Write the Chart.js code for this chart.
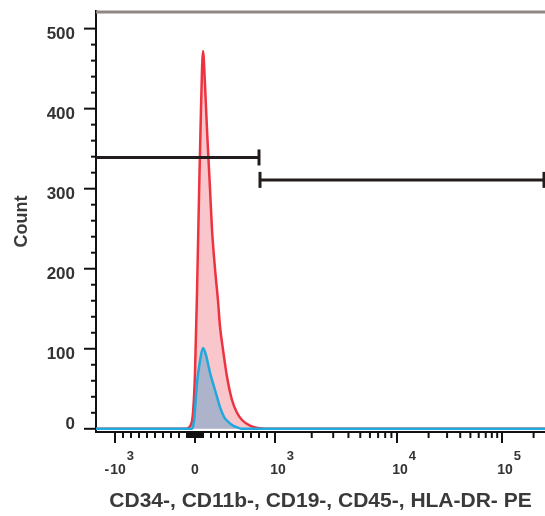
<!DOCTYPE html>
<html lang="en">
<head>
    <meta charset="UTF-8">
    <title>Count histogram</title>
    <script src="https://cdn.jsdelivr.net/npm/chart.js"></script>
    <style>
        body { margin: 0; background: white; }
        canvas { display: block; }
    </style>
</head>
<body>
    <canvas id="histChart" width="545" height="516"></canvas>
    <script>
        // histogram values, x in display channels (0 = left edge of plot)
        const redChannels = [0, 90, 94, 97, 99, 101, 103, 105, 107, 109, 111, 114, 116, 119, 122, 124, 127, 131, 136, 141, 146, 154, 162, 169, 449];
        const redCounts   = [0, 0, 3, 20, 70, 170, 290, 400, 472, 430, 374, 300, 249, 200, 160, 128, 99, 65, 36, 20, 11, 4, 1, 0, 0];
        const blueChannels = [0, 96, 98, 101, 104, 107, 110, 114, 117, 121, 124, 128, 132, 137, 141, 146, 449];
        const blueCounts   = [0, 0, 10, 57, 85, 101, 92, 70, 57, 40, 27, 15, 9, 4, 2, 0, 0];

        // gates: [start channel, end channel, count level]
        const gateLeft = [0, 163, 339];
        const gateRight = [164, 448, 311];

        const xMajorValues = [-1000, 0, 1000, 10000, 100000];
        const xMajorBase = ['-10', '0', '10', '10', '10'];
        const xMajorExp = ['3', '', '3', '4', '5'];
        const yMajor = [0, 100, 200, 300, 400, 500];

        const xTitle = 'CD34-, CD11b-, CD19-, CD45-, HLA-DR- PE';
        const yTitle = 'Count';

        // biexponential-like display transform (value -> channel)
        function toChannel(v) {
            if (v <= 1000) return 99 + v * 0.08;
            if (v <= 10000) return 179 + 122 * Math.log10(v / 1000);
            return 301 + 105 * Math.log10(v / 10000);
        }

        const xMinor = [];
        for (let v = -900; v <= 900; v += 100) if (v !== 0) xMinor.push(v);
        for (let v = -90; v <= 90; v += 10) if (v !== 0) xMinor.push(v);
        for (let k = 2; k <= 9; k++) { xMinor.push(k * 1000); xMinor.push(k * 10000); }
        xMinor.push(200000);

        const toPoints = (xs, ys) => xs.map((x, i) => ({ x: x, y: ys[i] }));

        const FONT = "'Liberation Sans', Arial, sans-serif";

        const decor = {
            id: 'decor',
            afterDatasetsDraw(chart) {
                const { ctx, chartArea } = chart;
                const xs = chart.scales.x, ys = chart.scales.y;
                ctx.save();
                // top frame line
                ctx.strokeStyle = '#8e8785';
                ctx.lineWidth = 3;
                ctx.beginPath();
                ctx.moveTo(chartArea.left, chartArea.top + 1);
                ctx.lineTo(chartArea.right, chartArea.top + 1);
                ctx.stroke();

                // gates
                ctx.strokeStyle = '#231c1c';
                ctx.lineWidth = 3;
                [gateLeft, gateRight].forEach((g, gi) => {
                    const x0 = xs.getPixelForValue(g[0]);
                    const x1 = xs.getPixelForValue(g[1]);
                    const y = ys.getPixelForValue(g[2]);
                    ctx.beginPath();
                    ctx.moveTo(x0, y);
                    ctx.lineTo(x1, y);
                    ctx.stroke();
                    const caps = gi === 0 ? [x1] : [x0, x1];
                    caps.forEach(cx => {
                        ctx.beginPath();
                        ctx.moveTo(cx, y - 8);
                        ctx.lineTo(cx, y + 8);
                        ctx.stroke();
                    });
                });

                // x tick marks
                const bottom = chartArea.bottom;
                ctx.strokeStyle = '#111';
                ctx.lineWidth = 2;
                xMinor.forEach(v => {
                    const px = xs.getPixelForValue(toChannel(v));
                    if (px > chartArea.right) return;
                    ctx.beginPath();
                    ctx.moveTo(px, bottom);
                    ctx.lineTo(px, bottom + 6);
                    ctx.stroke();
                });
                xMajorValues.forEach(v => {
                    const px = xs.getPixelForValue(toChannel(v));
                    ctx.beginPath();
                    ctx.moveTo(px, bottom);
                    ctx.lineTo(px, bottom + 11);
                    ctx.stroke();
                });

                // y tick marks and labels
                const left = chartArea.left;
                ctx.fillStyle = '#333';
                ctx.textBaseline = 'middle';
                ctx.textAlign = 'right';
                ctx.font = 'bold 17px ' + FONT;
                for (let v = 0; v <= 500; v += 20) {
                    const py = ys.getPixelForValue(v);
                    const major = yMajor.includes(v);
                    ctx.beginPath();
                    ctx.moveTo(left, py);
                    ctx.lineTo(left - (major ? 12 : 5), py);
                    ctx.stroke();
                    if (major) {
                        const ly = Math.min(py + 6, bottom - 8);
                        ctx.fillText(String(v), left - 21, ly);
                    }
                }

                // x tick labels with exponents
                ctx.fillStyle = '#333';
                xMajorValues.forEach((v, i) => {
                    const px = xs.getPixelForValue(toChannel(v));
                    ctx.font = 'bold 14px ' + FONT;
                    if (!xMajorExp[i]) {
                        ctx.textAlign = 'center';
                        ctx.fillText(xMajorBase[i], px, 470);
                        return;
                    }
                    ctx.textAlign = 'left';
                    const digits = xMajorBase[i].replace('-', '');
                    const w = ctx.measureText(digits).width;
                    const start = px + 3 - w / 2;
                    ctx.fillText(digits, start, 470);
                    if (xMajorBase[i].startsWith('-')) {
                        ctx.textAlign = 'right';
                        ctx.fillText('-', start - 1, 470);
                        ctx.textAlign = 'left';
                    }
                    ctx.font = 'bold 13px ' + FONT;
                    ctx.fillText(xMajorExp[i], start + w + 1, 456);
                });
                ctx.restore();
            }
        };

        const ctx = document.getElementById('histChart').getContext('2d');
        new Chart(ctx, {
            type: 'line',
            data: {
                datasets: [{
                    label: 'Blue',
                    data: toPoints(blueChannels, blueCounts),
                    borderColor: '#1fa9dd',
                    backgroundColor: 'rgba(60, 150, 200, 0.4)',
                    borderWidth: 2.5,
                    fill: 'origin',
                    pointRadius: 0,
                    cubicInterpolationMode: 'monotone',
                    clip: false,
                    order: 0
                }, {
                    label: 'Red',
                    data: toPoints(redChannels, redCounts),
                    borderColor: '#ee3340',
                    backgroundColor: 'rgba(238, 95, 105, 0.35)',
                    borderWidth: 2.5,
                    fill: 'origin',
                    pointRadius: 0,
                    cubicInterpolationMode: 'monotone',
                    clip: false,
                    order: 1
                }]
            },
            options: {
                responsive: false,
                animation: false,
                layout: { padding: { top: 11, right: 0, left: 0, bottom: 0 } },
                plugins: {
                    legend: { display: false },
                    tooltip: { enabled: false }
                },
                scales: {
                    x: {
                        type: 'linear',
                        min: 0,
                        max: 449,
                        grid: { display: false, drawTicks: false },
                        border: { display: true, color: '#111', width: 2 },
                        ticks: { display: false },
                        title: {
                            display: true,
                            text: xTitle,
                            color: '#3a3a3a',
                            font: { family: FONT, size: 21, weight: 'bold' },
                            padding: { top: 0, bottom: 2 }
                        },
                        afterFit: s => { s.height = 84; }
                    },
                    y: {
                        type: 'linear',
                        min: -4,
                        max: 522,
                        grid: { display: false, drawTicks: false },
                        border: { display: true, color: '#111', width: 2 },
                        ticks: { display: false },
                        title: {
                            display: true,
                            text: yTitle,
                            color: '#3a3a3a',
                            font: { family: FONT, size: 18, weight: 'bold' },
                            padding: { top: 11, bottom: 0 }
                        },
                        afterFit: s => { s.width = 96; }
                    }
                }
            },
            plugins: [decor]
        });
    </script>
</body>
</html>
